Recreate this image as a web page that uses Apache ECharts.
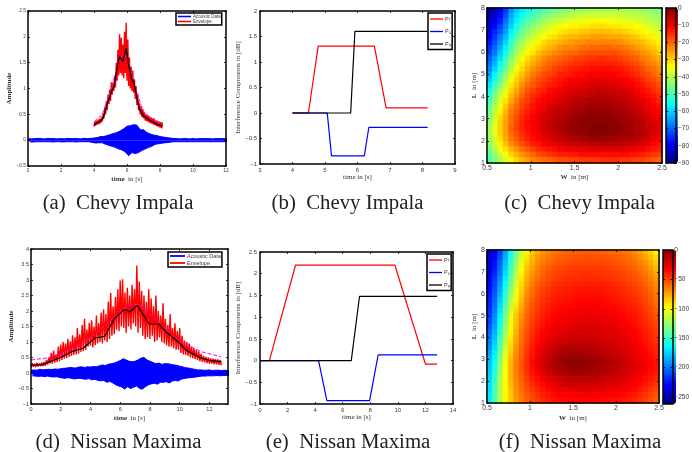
<!DOCTYPE html>
<html>
<head>
<meta charset="utf-8">
<script src="https://cdn.jsdelivr.net/npm/echarts@6/dist/echarts.min.js"></script>
<style>html,body{margin:0;padding:0;background:#fff}#c{width:692px;height:452px;filter:blur(0.4px)}</style>
</head>
<body>
<div id="c"></div>
<script>
// ---------- (a) Chevy Impala ----------
const acousticStepA = 0.1;
const acousticA = [.03,-.03,.025,-.035,.03,-.03,.035,-.03,.03,-.03,.025,-.03,.035,-.03,.03,-.035,.03,-.03,.025,-.03,
.03,-.035,.025,-.03,.035,-.03,.03,-.03,.03,-.035,.03,-.03,.025,-.03,.035,-.03,.03,-.03,.035,-.045,
.04,-.055,.05,-.05,.07,-.05,.07,-.08,.09,-.1,.11,-.12,.13,-.14,.15,-.17,.18,-.19,.22,-.23,.27,-.3,.28,-.24,.3,-.26,.29,-.24,.2,-.2,
.2,-.17,.15,-.14,.12,-.12,.1,-.08,.09,-.07,.07,-.06,.06,-.05,.05,-.045,.04,-.035,.035,-.03,
.03,-.03,.025,-.03,.03,-.03,.03,-.03,.025,-.03,.03,-.03,.025,-.03,.03,-.03,.03,-.03,.03,-.03,.03,-.03,.025,-.03,.03,-.03,.03,-.03,.03,-.03,.025,-.03,.03,-.03,.03];
const noisyStepA = 0.05, noisyStartA = 4;
const noisyA = [.26,.36,.28,.38,.30,.40,.31,.41,.33,.45,.36,.52,.42,.62,.50,.75,.58,.88,.70,.98,.76,1.12,.88,1.1,.95,1.25,1.02,1.5,1.15,1.75,1.25,2.05,1.3,1.98,1.25,1.85,1.2,2.1,1.3,2.27,1.15,1.95,1.05,1.6,1.0,1.42,.95,1.35,.92,1.18,.8,1.05,.68,.9,.58,.72,.5,.65,.45,.6,.42,.55,.38,.5,.37,.48,.35,.46,.33,.44,.32,.42,.3,.42,.29,.38,.27,.38,.26,.36,.24,.35,.23,.34];
const fitA = [[4,.35],[4.5,.5],[5,.95],[5.5,1.5],[5.8,1.7],[6.1,1.5],[6.5,1.0],[7,.55],[7.5,.42],[8.15,.3]];
const envelopeA = [[4,.3],[4.3,.35],[4.55,.42],[4.8,.7],[5.1,.98],[5.2,1.02],[5.4,1.4],[5.55,1.62],[5.62,1.65],[5.75,1.52],[5.95,1.78],[6.1,1.45],[6.3,1.17],[6.4,1.13],[6.55,.9],[6.75,.6],[7,.47],[7.4,.38],[7.8,.31],[8.15,.27]];

// ---------- (b) Chevy Impala ----------
const pTb = [[4,0],[4.49,0],[4.79,1.31],[6.52,1.31],[6.88,.1],[8.16,.1]];
const pBb = [[4,0],[5.07,0],[5.2,-.84],[6.21,-.84],[6.35,-.28],[8.16,-.28]];
const pWb = [[4,0],[5.79,0],[5.92,1.6],[8.16,1.6]];

// ---------- (c) Chevy Impala: attenuation below peak in dB, rows L=8 down to L=1 ----------
const heatC = [
[89,85,80,74,66,61,58,55,53,51,49,48,46,45,44,43,43,42,42,41,41,41,41,41,41,41,42,42,43,43,44,45],
[87,83,78,72,64,59,55,52,50,48,46,44,43,42,41,40,39,39,38,38,38,38,38,38,38,39,39,40,40,41,42,43],
[85,81,76,69,62,57,52,49,47,45,42,41,39,38,37,36,36,35,35,35,34,34,34,35,35,36,36,37,38,39,40,41],
[83,79,73,67,60,54,50,47,44,42,39,38,36,35,34,33,33,32,32,31,31,31,32,32,32,33,33,34,35,37,38,39],
[81,76,71,65,57,52,47,44,41,39,37,35,33,32,31,30,30,29,29,28,28,28,28,29,29,30,31,32,33,34,36,37],
[79,74,68,62,55,49,45,41,38,36,34,32,31,29,28,27,27,26,26,25,25,25,26,26,26,27,28,29,31,32,33,35],
[77,72,66,60,52,46,42,38,36,33,31,29,28,27,26,25,24,24,23,23,23,23,23,23,24,25,26,27,28,30,31,33],
[75,70,64,57,50,44,40,36,33,31,29,27,26,24,23,23,22,21,21,20,20,20,20,21,21,22,23,25,26,28,29,31],
[73,68,61,55,47,42,37,33,31,28,26,25,23,22,21,20,20,19,18,18,18,18,18,18,19,20,21,22,24,25,27,29],
[71,65,59,52,45,39,35,31,28,26,24,22,21,20,19,18,17,17,16,16,15,15,16,16,17,18,19,20,22,23,25,27],
[69,63,56,49,42,37,32,29,26,24,22,20,19,18,17,16,15,15,14,14,14,14,14,14,15,16,17,18,20,22,23,25],
[67,60,53,47,40,34,30,27,24,22,20,19,17,16,15,14,14,13,13,12,12,12,12,13,13,14,15,16,18,20,21,23],
[64,57,50,44,37,32,28,25,22,20,18,17,16,14,14,13,12,12,11,11,11,11,11,11,12,13,14,15,17,18,20,22],
[61,54,48,41,35,30,26,23,20,18,17,15,14,13,12,11,11,10,10,9,9,9,9,10,10,11,12,13,15,17,18,20],
[58,51,45,38,32,28,24,21,19,17,15,14,13,12,11,10,9,9,8,8,8,8,8,8,9,10,11,12,13,15,16,18],
[55,48,42,36,30,26,22,19,17,15,14,12,11,10,9,9,8,8,7,7,6,6,7,7,8,8,9,11,12,13,15,17],
[52,46,39,33,28,24,20,17,15,14,12,11,10,9,8,7,7,6,6,5,5,5,5,6,6,7,8,9,11,12,13,15],
[50,43,37,31,26,22,18,16,14,12,11,10,8,8,7,6,5,5,4,4,4,4,4,5,5,6,7,8,9,11,12,14],
[48,41,35,29,24,20,17,15,13,11,10,8,7,6,6,5,4,4,3,3,3,3,3,4,4,5,6,7,8,10,11,12],
[46,40,33,27,22,19,16,14,12,10,9,7,6,5,5,4,3,3,2,2,2,2,2,3,3,4,5,6,7,8,10,11],
[44,38,31,26,21,18,15,13,11,9,8,7,5,5,4,3,2,2,1,1,1,1,1,2,2,3,4,5,6,7,9,10],
[43,37,30,25,21,17,14,12,10,9,7,6,5,4,3,2,2,1,1,1,1,1,1,1,2,3,3,4,5,7,8,9],
[42,36,30,25,20,17,14,12,11,9,8,6,5,4,3,2,2,1,1,0,0,0,1,1,1,2,3,4,5,6,7,9],
[42,36,30,25,21,18,15,13,11,10,8,7,6,5,4,3,2,2,1,1,1,1,1,1,2,3,3,4,5,6,8,9],
[43,37,31,26,22,19,16,14,12,11,9,8,7,6,5,4,4,3,3,2,2,2,3,3,3,4,4,5,6,7,9,10],
[44,38,33,28,24,21,18,16,14,13,11,10,9,8,7,7,6,6,5,5,5,5,5,5,5,6,6,7,8,9,11,12],
[46,41,35,31,27,24,21,19,17,15,14,13,12,11,10,10,9,9,9,8,8,8,8,8,8,9,9,10,11,12,13,14],
[48,43,38,34,30,27,24,22,20,18,17,16,15,14,14,13,13,12,12,12,12,12,12,12,12,12,13,13,14,15,16,17],
[50,46,41,37,33,30,27,25,23,22,21,20,19,18,18,17,17,16,16,16,16,15,15,15,16,16,16,17,17,18,19,20]];

// ---------- (d) Nissan Maxima ----------
const acousticStepD = 0.1;
const acousticD = [.08,-.09,.1,-.1,.09,-.11,.12,-.1,.1,-.12,.11,-.1,.12,-.12,.11,-.13,.13,-.12,.12,-.14,
.14,-.16,.15,-.17,.16,-.15,.18,-.17,.17,-.19,.16,-.18,.19,-.17,.2,-.19,.18,-.2,.2,-.18,.19,-.22,.21,-.2,.2,-.24,.23,-.25,.26,-.24,
.24,-.3,.28,-.27,.3,-.32,.32,-.38,.36,-.42,.4,-.45,.46,-.52,.42,-.44,.38,-.5,.36,-.46,.38,-.42,.42,-.5,.48,-.52,.5,-.44,.42,-.38,
.38,-.35,.34,-.33,.3,-.36,.32,-.3,.28,-.3,.3,-.28,.3,-.32,.28,-.26,.26,-.24,.25,-.26,
.22,-.2,.2,-.18,.17,-.16,.16,-.15,.14,-.14,.12,-.13,.1,-.11,.1,-.1,.09,-.1,.09,-.09,.1,-.09,.08,-.09,.09,-.08,.09,-.09,.08,-.08,.09,-.08,.08,-.09,.08,-.08,.09];
const noisyStepD = 0.08;
const noisyD = [.18,.32,.2,.3,.19,.33,.21,.31,.22,.34,.22,.36,.23,
.42,.27,.5,.3,.65,.3,.72,.33,.6,.36,.85,.38,
.92,.42,1.0,.46,.95,.48,1.1,.52,1.02,.55,1.22,.58,1.15,
.6,1.45,.62,1.25,.68,1.55,.7,1.75,.75,1.4,.85,1.62,
.88,1.7,.82,1.5,.9,1.85,.95,1.6,1.0,1.95,.95,2.05,1.05,
1.9,1.0,2.3,1.1,2.58,1.2,2.15,1.25,2.45,1.4,2.7,1.35,
2.98,1.5,3.02,1.45,2.6,1.3,2.75,1.5,2.5,1.4,2.85,1.6,2.7,
1.5,3.47,1.3,2.95,1.45,2.65,1.2,2.5,1.1,2.3,1.15,2.7,
1.1,2.4,1.2,2.15,1.0,2.5,1.05,2.0,1.15,1.85,1.0,2.25,.95,
1.75,.9,1.55,.85,1.9,.85,1.45,.8,1.6,.75,1.35,.75,
1.45,.65,1.2,.6,1.05,.58,1.0,.55,.95,.5,.85,.48,.8,
.45,.75,.42,.7,.38,.62,.36,.55,.34,.52,.32,.5,
.3,.48,.3,.46,.28,.45,.28,.44,.26,.42,.25];
const fitD = [[0,.42],[1,.48],[2,.62],[3,.85],[4,1.15],[5,1.55],[6,1.98],[6.6,2.18],[7,2.22],[7.5,2.15],[8.5,1.65],[9.5,1.2],[10.5,.9],[11.5,.68],[12.8,.52]];
const envelopeD = [[0,.25],[.8,.28],[2,.5],[2.7,.68],[3.5,.8],[4.3,1.13],[4.95,1.18],[5.6,1.75],[6.2,2.02],[6.4,2.04],[6.65,1.97],[7.15,2.18],[7.95,1.58],[8.6,1.58],[9.1,1.32],[9.8,1.05],[10.45,.73],[11.35,.5],[12,.41],[12.8,.37]];

// ---------- (e) Nissan Maxima ----------
const pTe = [[0,0],[.68,0],[2.58,2.2],[9.78,2.2],[12,-.08],[12.85,-.08]];
const pBe = [[0,0],[4.25,0],[4.85,-.92],[7.95,-.92],[8.57,.13],[12.85,.13]];
const pWe = [[0,0],[6.62,0],[7.22,1.48],[12.85,1.48]];

// ---------- (f) Nissan Maxima: attenuation below peak in dB, rows L=8 down to L=1 ----------
const heatF = [
[245,232,212,188,160,135,112,96,84,76,70,66,62,60,58,57,57,56,56,56,56,57,58,59,60,62,64,67,72,78,85,95],
[243,229,209,184,156,131,108,92,80,72,67,63,60,58,56,55,54,54,53,53,54,54,55,56,57,59,61,64,68,74,81,90],
[240,226,205,180,152,126,104,88,77,69,64,60,57,55,53,52,51,51,51,51,51,51,52,53,55,56,59,61,65,70,76,85],
[238,223,202,176,148,122,100,84,74,66,61,57,54,52,50,49,49,48,48,48,48,49,50,51,52,54,56,58,62,67,72,80],
[235,220,198,172,144,118,96,81,71,64,58,54,51,49,48,47,46,45,45,45,46,46,47,48,49,51,53,55,59,63,68,75],
[232,216,194,168,139,114,92,78,68,61,56,52,49,47,45,44,44,43,43,43,43,44,45,46,47,49,51,53,56,60,65,72],
[230,213,190,163,135,110,89,75,65,58,53,49,46,44,43,42,41,41,40,40,41,41,42,43,44,46,48,50,54,58,62,69],
[227,210,186,158,130,105,86,72,62,55,50,47,44,42,41,40,39,38,38,38,38,39,40,41,42,44,46,48,51,55,60,66],
[224,207,182,154,125,101,83,69,60,53,48,45,42,40,39,38,37,36,36,36,36,37,38,39,40,42,44,46,49,53,57,63],
[222,204,178,149,120,97,80,66,57,51,46,43,40,38,37,36,35,34,34,34,34,35,36,37,38,40,42,44,47,51,55,61],
[220,201,174,144,115,93,76,64,55,49,44,41,38,36,35,34,33,32,32,32,32,33,34,35,36,38,40,42,45,49,53,59],
[217,198,170,140,110,89,73,62,53,47,42,39,36,34,33,32,31,30,30,30,31,31,32,33,34,36,38,40,43,47,51,56],
[215,195,166,135,106,85,70,60,51,45,40,37,34,32,31,30,29,28,28,28,29,29,30,31,32,34,36,38,41,45,49,54],
[212,192,162,131,103,83,68,58,49,43,38,35,32,30,29,28,27,26,26,26,27,27,28,29,31,32,34,37,40,43,47,52],
[208,188,158,127,100,81,66,56,47,41,36,33,30,28,27,26,25,24,24,24,25,25,26,27,29,31,33,35,38,42,45,50],
[204,184,154,124,97,79,64,54,45,39,34,31,28,26,25,24,23,22,22,22,23,24,25,26,27,29,31,33,36,40,44,48],
[200,180,150,120,94,76,62,52,44,37,32,29,26,24,22,21,20,20,20,20,21,22,23,24,25,27,29,32,35,38,42,46],
[196,176,146,116,91,74,60,50,42,35,30,26,23,21,19,18,17,17,17,18,19,20,21,22,24,26,28,30,33,37,40,44],
[192,172,142,112,88,71,59,48,40,33,27,23,20,17,15,14,14,14,14,15,16,18,19,21,22,24,26,29,32,35,39,42],
[188,168,138,108,85,69,57,46,38,31,25,20,16,13,11,10,9,10,11,12,13,15,17,18,20,22,25,27,30,33,37,40],
[184,164,134,104,82,67,56,45,36,29,23,18,14,10,8,6,5,5,7,8,10,12,14,16,18,20,23,26,29,32,35,38],
[180,160,130,100,80,65,55,44,35,28,22,17,13,9,6,4,3,3,4,5,7,9,11,13,15,18,21,24,27,30,33,36],
[178,157,127,99,79,65,55,45,36,29,23,18,14,10,8,6,5,5,6,7,9,11,13,15,17,19,22,25,28,31,34,37],
[176,154,124,98,79,65,56,46,38,32,26,21,17,14,12,10,9,9,10,11,12,14,15,17,19,21,24,27,30,33,36,39],
[174,151,122,98,80,66,57,48,41,35,30,25,22,19,17,15,15,15,15,15,16,17,19,20,22,24,26,29,32,35,39,42],
[172,149,120,97,81,68,59,51,44,39,34,30,27,24,22,21,20,20,20,20,21,22,23,24,25,27,29,31,34,38,42,46],
[171,147,119,97,83,69,61,54,47,42,38,34,31,29,27,26,26,25,25,25,26,26,27,28,29,31,33,35,38,42,46,51],
[169,146,118,97,84,71,63,56,50,45,41,38,35,33,32,31,30,30,30,30,31,31,32,32,33,35,37,39,42,46,50,55],
[168,145,118,97,85,72,65,58,52,47,43,40,38,36,35,34,34,34,34,34,34,35,35,36,37,38,40,42,45,48,52,58]];

const captions = ['(a)  Chevy Impala','(b)  Chevy Impala','(c)  Chevy Impala','(d)  Nissan Maxima','(e)  Nissan Maxima','(f)  Nissan Maxima'];
const seriesNames = {acoustic:'Acoustic Data', envelope:'Envelope', pT:'PT', pB:'P\u03b8', pW:'P\u03c8'};
const jet = ['#000080','#0000ff','#0080ff','#00ffff','#80ff80','#ffff00','#ff8000','#ff0000','#800000'];

const grid=[], xAxis=[], yAxis=[], series=[], legend=[], visualMap=[], graphic=[];
const INK='#000', LABEL='#3a3a3a';
const minus = v => String(v).replace('-','\u2212');

function box(g, x, y, o){
  const gi = grid.length;
  grid.push({left:g[0],top:g[1],width:g[2],height:g[3],show:false});
  const ax = {lineStyle:{color:INK,width:o.lw||1.5}};
  const tick = (custom)=>({show:true,inside:true,length:2,lineStyle:{color:INK,width:.8},customValues:custom});
  const lab = (custom,fs)=>({show:true,fontSize:fs,color:LABEL,fontFamily:'Liberation Sans',margin:o.margin||2,hideOverlap:false,formatter:minus,customValues:custom});
  const ns = o.nameSize||7;
  const nameStyle = {fontFamily:'Liberation Serif',fontSize:ns,color:'#333',rich:{b:{fontFamily:'Liberation Serif',fontWeight:'bold',fontSize:ns,color:'#333'},n:{fontFamily:'Liberation Serif',fontSize:ns,color:'#333'}}};
  const xi = xAxis.length, yi = yAxis.length;
  xAxis.push({type:'value',gridIndex:gi,position:'bottom',min:x.min,max:x.max,interval:x.step,z:5,splitLine:{show:false},
    axisLine:Object.assign({show:true,onZero:false},ax),axisTick:x.hide?{show:false}:tick(x.ticks),
    axisLabel:x.hide?{show:false}:lab(x.ticks,o.fs),name:x.name,nameLocation:'middle',nameGap:o.xGap||9,nameTextStyle:nameStyle});
  xAxis.push({type:'value',gridIndex:gi,position:'top',min:x.min,max:x.max,interval:x.step,z:5,splitLine:{show:false},
    axisLine:Object.assign({show:true,onZero:false},ax),axisTick:x.hide?{show:false}:tick(x.ticks),axisLabel:{show:false}});
  const yLeft = {type:'value',gridIndex:gi,position:'left',min:y.min,max:y.max,interval:y.step,z:5,splitLine:{show:false},
    axisLine:Object.assign({show:true,onZero:false},ax),axisTick:tick(y.ticks),axisLabel:y.right?{show:false}:lab(y.ticks,o.fs),
    name:y.name,nameLocation:'middle',nameGap:o.yGap||14,nameTextStyle:nameStyle};
  const yRight = {type:'value',gridIndex:gi,position:'right',min:y.min,max:y.max,interval:y.step,z:5,splitLine:{show:false},
    axisLine:Object.assign({show:true,onZero:false},ax),axisTick:tick(y.ticks),axisLabel:y.right?lab(y.ticks,o.fs):{show:false}};
  yAxis.push(yLeft,yRight);
  return {xi,yi};
}
function line(ref,name,data,color,width,dash,area){
  series.push({type:'line',name,data,xAxisIndex:ref.xi,yAxisIndex:ref.yi,showSymbol:false,symbol:'none',
    lineStyle:{color,width,type:dash?'dashed':'solid'},itemStyle:{color},emphasis:{disabled:true},silent:true,z:2,
    areaStyle:area?{color,opacity:1}:undefined});
}
const sampled = (vals,start,step)=>vals.map((v,i)=>[+(start+i*step).toFixed(3),v]);

function signalPanel(g,x,y,o,acoustic,acStep,noisy,noisyStart,noisyStep,fit,env,lg){
  const r = box(g,x,y,o);
  const all = sampled(acoustic,0,acStep);
  line(r,seriesNames.acoustic,all.filter(p=>p[1]>=0),'#0000ff',1,false,true);
  line(r,'acoustic lower',all.filter(p=>p[1]<0),'#0000ff',1,false,true);
  line(r,seriesNames.envelope,sampled(noisy,noisyStart,noisyStep),'#ff0000',1.4);
  line(r,'fit',fit,'#ff00ff',1,true);
  line(r,'smoothed',env,'#000',1.2);
  legend.push({show:true,data:[seriesNames.acoustic,seriesNames.envelope],orient:'vertical',left:lg[0],top:lg[1],z:10,
    backgroundColor:'#fff',borderColor:'#000',borderWidth:1.5,padding:lg[2],itemWidth:lg[3],itemHeight:4,itemGap:lg[4],borderRadius:0,
    icon:'path://M0 0H10V1.2H0Z',selectedMode:false,textStyle:{fontSize:lg[5],color:LABEL,fontFamily:'Liberation Sans',padding:[0,0,0,-3]}});
}
function stepPanel(g,x,y,o,t,b,w,lg){
  const r = box(g,x,y,o);
  line(r,seriesNames.pT,t,'#ff0000',1.2);
  line(r,seriesNames.pB,b,'#0000ff',1.2);
  line(r,seriesNames.pW,w,'#000',1.2);
  legend.push({show:true,data:[seriesNames.pT,seriesNames.pB,seriesNames.pW],orient:'vertical',left:lg[0],top:lg[1],z:10,
    backgroundColor:'#fff',borderColor:'#000',borderWidth:1.5,padding:lg[2],itemWidth:13,itemHeight:4,itemGap:lg[3],
    icon:'path://M0 0H10V1H0Z',selectedMode:false,
    formatter:n=>'{m|P}{s|'+n.slice(1)+'}',
    textStyle:{fontSize:5,color:LABEL,fontFamily:'Liberation Sans',padding:[0,0,0,-3],rich:{m:{fontSize:5.5,color:LABEL},s:{fontSize:3.5,color:LABEL,verticalAlign:'bottom',padding:[3,0,0,0]}}}});
}
function heatPanel(g,cb,rows,low,colorTicks,cbStep,o){
  const gi = grid.length;
  grid.push({left:g[0],top:g[1],width:g[2],height:g[3],show:false});
  const nr = rows.length;
  const xi = xAxis.length, yi = yAxis.length;
  xAxis.push({type:'category',gridIndex:gi,show:false,data:rows[0].map((_,i)=>i)});
  yAxis.push({type:'category',gridIndex:gi,show:false,data:rows.map((_,i)=>i)});
  const data=[];
  rows.forEach((row,r)=>row.forEach((v,c)=>data.push({value:[c,nr-1-r,-v],
    itemStyle:{borderWidth:.6,borderColor:echarts.color.lerp((-v-low)/(0-low),jet)}})));
  const si = series.length;
  series.push({type:'heatmap',data,xAxisIndex:xi,yAxisIndex:yi,silent:true,emphasis:{disabled:true},z:1,progressive:0});
  visualMap.push({type:'continuous',seriesIndex:si,min:low,max:0,left:cb[0],top:cb[1],itemWidth:cb[2],itemHeight:cb[3],padding:0,text:null,showLabel:false,calculable:false,hoverLink:false,inRange:{color:jet}});
  box(g,{min:.5,max:2.5,step:.5,name:'{b|W}  {n|in [m]}'},{min:1,max:8,step:1,name:'{b|L}  {n|in [m]}'},o);
  box(cb,{min:0,max:1,step:1,hide:true},{min:low,max:0,step:cbStep,ticks:colorTicks,right:true},{fs:6.5,margin:2,lw:1.5});
}

signalPanel([28,11,198,155],{min:0,max:12,step:2,name:'{b|time}  {n|in [s]}'},{min:-.5,max:2.5,step:.5,name:'{b|Amplitude}'},{fs:4.8,xGap:10,yGap:10,nameSize:7},
  acousticA,acousticStepA,noisyA,noisyStartA,noisyStepA,fitA,envelopeA,[176,13,[1,1,1,2],13,0,4.5]);
stepPanel([260,11,195,153],{min:3,max:9,step:1,name:'{n|time in [s]}'},{min:-1,max:2,step:.5,name:'{n|Interference Components in [dB]}'},{fs:6,xGap:10,yGap:16,margin:3,nameSize:7},
  pTb,pBb,pWb,[428,13,[3,1,2,2],6]);
heatPanel([487,8,175,155],[666,8,12,155],heatC,-90,undefined,10,{fs:7,xGap:11,yGap:7,nameSize:7});

signalPanel([31,249,197,155],{min:0,max:13.25,step:2,ticks:[0,2,4,6,8,10,12],name:'{b|time}  {n|in [s]}'},{min:-1,max:4,step:.5,name:'{b|Amplitude}'},{fs:5.5,xGap:11,yGap:14,nameSize:7},
  acousticD,acousticStepD,noisyD,0,noisyStepD,fitD,envelopeD,[168,252,[1,1,1,2],15,1,5.5]);
stepPanel([260,252,193,152],{min:0,max:14,step:2,name:'{n|time in [s]}'},{min:-1,max:2.5,step:.5,name:'{n|Interference Components in [dB]}'},{fs:6,xGap:10,yGap:16,margin:3,nameSize:7},
  pTe,pBe,pWe,[427,254,[3,1,2,2],6]);
heatPanel([487,250,172,153],[663,250,13,154],heatF,-262,[0,-50,-100,-150,-200,-250],50,{fs:7,xGap:12,yGap:7,nameSize:7});

const captionPos = [[118,204],[347.5,204],[579.5,204],[118.5,443],[348,443],[580,443]];
captions.forEach((t,i)=>graphic.push({type:'text',x:captionPos[i][0],y:captionPos[i][1],silent:true,
  style:{text:t,fontFamily:'Liberation Serif',fontSize:20.8,fill:'#222',align:'center',verticalAlign:'middle'}}));

const chart = echarts.init(document.getElementById('c'),null,{renderer:'canvas'});
chart.setOption({animation:false,backgroundColor:'#fff',grid,xAxis,yAxis,series,legend,visualMap,graphic,tooltip:{show:false}});
</script>
</body>
</html>
